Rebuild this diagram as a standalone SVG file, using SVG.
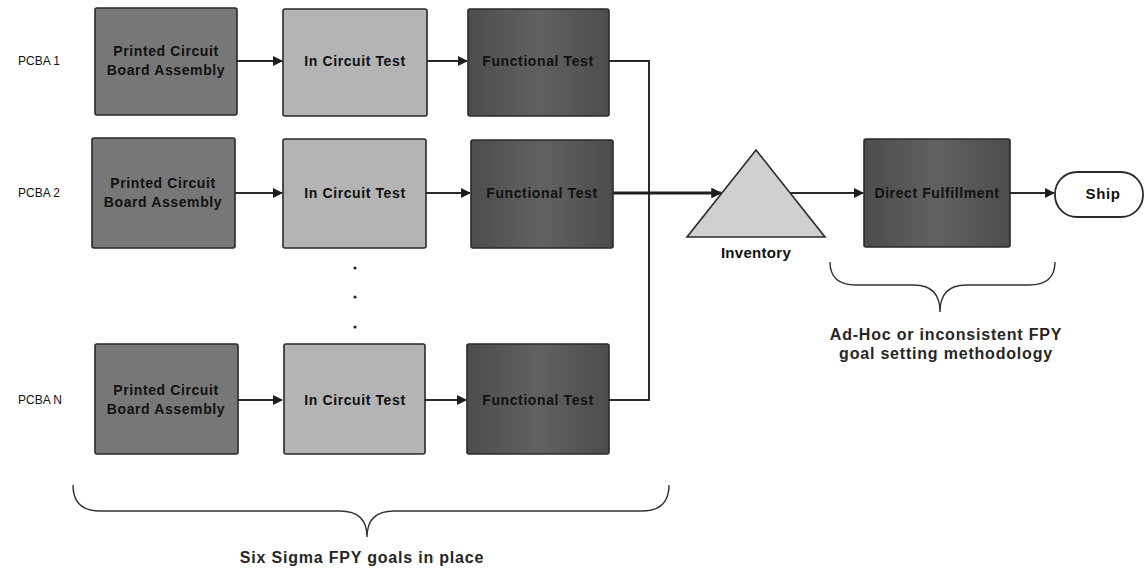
<svg xmlns="http://www.w3.org/2000/svg" width="1144" height="571" viewBox="0 0 1144 571">
  <style>
    .box { stroke: #2a2a2a; stroke-width: 1.6; }
    .pcb { fill: #777777; }
    .ict { fill: #b4b4b4; }
    .ft { fill: url(#ftGrad); }
    .inv { fill: #d0d0d0; stroke: #2a2a2a; stroke-width: 1.6; }
    .term { fill: #ffffff; stroke: #2a2a2a; stroke-width: 1.8; }
    .lbl { font-family: "Liberation Sans", Arial, sans-serif; font-weight: bold; font-size: 14px; letter-spacing: 0.6px; fill: #111; text-anchor: middle; }
    .side { font-family: "Liberation Sans", Arial, sans-serif; font-size: 12px; fill: #111; }
    .note { font-family: "Liberation Sans", Arial, sans-serif; font-weight: bold; font-size: 16px; letter-spacing: 0.8px; fill: #262626; text-anchor: middle; }
    .conn { fill: none; stroke: #2a2a2a; stroke-width: 2; }
    .thick { fill: none; stroke: #1e1e1e; stroke-width: 3; }
    .brace { fill: none; stroke: #333; stroke-width: 1.4; }
    .dot { fill: #222; }
  </style>
  <defs>
    <linearGradient id="ftGrad" x1="0" y1="0" x2="1" y2="0">
      <stop offset="0" stop-color="#4c4c4c"/>
      <stop offset="0.5" stop-color="#616161"/>
      <stop offset="1" stop-color="#4c4c4c"/>
    </linearGradient>
    <marker id="arr" viewBox="0 0 10 10" refX="9" refY="5" markerWidth="5" markerHeight="5" orient="auto" markerUnits="strokeWidth">
      <path d="M0,0 L10,5 L0,10 z" fill="#1e1e1e"/>
    </marker>
    <marker id="arrT" viewBox="0 0 10 10" refX="9" refY="5" markerWidth="3.6" markerHeight="3.6" orient="auto" markerUnits="strokeWidth">
      <path d="M0,0 L10,5 L0,10 z" fill="#1e1e1e"/>
    </marker>
  </defs>

  <!-- row labels -->
  <text class="side" x="18" y="65">PCBA 1</text>
  <text class="side" x="18" y="197">PCBA 2</text>
  <text class="side" x="18" y="404">PCBA N</text>

  <!-- connectors -->
  <g id="connectors">
    <line class="conn" x1="237" y1="61" x2="282" y2="61" marker-end="url(#arr)"/>
    <line class="conn" x1="427" y1="61" x2="467" y2="61" marker-end="url(#arr)"/>
    <line class="conn" x1="235" y1="193" x2="282" y2="193" marker-end="url(#arr)"/>
    <line class="conn" x1="426" y1="193" x2="470" y2="193" marker-end="url(#arr)"/>
    <line class="conn" x1="238" y1="400" x2="282" y2="400" marker-end="url(#arr)"/>
    <line class="conn" x1="425" y1="400" x2="466" y2="400" marker-end="url(#arr)"/>
    <polyline class="conn" points="609,61 649,61 649,400 609,400"/>
    <line class="thick" x1="613" y1="193" x2="721" y2="193" marker-end="url(#arrT)"/>
    <line class="conn" x1="790" y1="193" x2="863" y2="193" marker-end="url(#arr)"/>
    <line class="conn" x1="1010" y1="193" x2="1054" y2="193" marker-end="url(#arr)"/>
  </g>

  <!-- PCBA 1 chain -->
  <g id="pcb1">
    <rect class="box pcb" x="95" y="8" width="142" height="107" rx="2"/>
    <text class="lbl" x="166" y="56">Printed Circuit</text>
    <text class="lbl" x="166" y="75">Board Assembly</text>
  </g>
  <g id="ict1">
    <rect class="box ict" x="283" y="9" width="144" height="107" rx="2"/>
    <text class="lbl" x="355" y="66">In Circuit Test</text>
  </g>
  <g id="ft1">
    <rect class="box ft" x="468" y="9" width="141" height="107" rx="2"/>
    <text class="lbl" x="538" y="66">Functional Test</text>
  </g>

  <!-- PCBA 2 chain -->
  <g id="pcb2">
    <rect class="box pcb" x="92" y="138" width="143" height="110" rx="2"/>
    <text class="lbl" x="163" y="188">Printed Circuit</text>
    <text class="lbl" x="163" y="207">Board Assembly</text>
  </g>
  <g id="ict2">
    <rect class="box ict" x="283" y="139" width="143" height="109" rx="2"/>
    <text class="lbl" x="355" y="198">In Circuit Test</text>
  </g>
  <g id="ft2">
    <rect class="box ft" x="471" y="140" width="142" height="108" rx="2"/>
    <text class="lbl" x="542" y="198">Functional Test</text>
  </g>

  <!-- ellipsis between rows -->
  <g id="ellipsis">
    <circle class="dot" cx="355" cy="268" r="1.6"/>
    <circle class="dot" cx="355" cy="297" r="1.6"/>
    <circle class="dot" cx="355" cy="327" r="1.6"/>
  </g>

  <!-- PCBA N chain -->
  <g id="pcbN">
    <rect class="box pcb" x="95" y="344" width="143" height="110" rx="2"/>
    <text class="lbl" x="166" y="395">Printed Circuit</text>
    <text class="lbl" x="166" y="414">Board Assembly</text>
  </g>
  <g id="ictN">
    <rect class="box ict" x="284" y="344" width="141" height="110" rx="2"/>
    <text class="lbl" x="355" y="405">In Circuit Test</text>
  </g>
  <g id="ftN">
    <rect class="box ft" x="467" y="344" width="142" height="110" rx="2"/>
    <text class="lbl" x="538" y="405">Functional Test</text>
  </g>

  <!-- inventory -->
  <g id="inventory">
    <polygon class="inv" points="756,150 825,237 687,237"/>
    <text class="lbl" x="756" y="258" style="font-size:15px;letter-spacing:0.3px">Inventory</text>
  </g>

  <!-- direct fulfillment -->
  <g id="fulfillment">
    <rect class="box ft" x="864" y="139" width="146" height="108" rx="2"/>
    <text class="lbl" x="937" y="198">Direct Fulfillment</text>
  </g>

  <!-- ship terminal -->
  <g id="ship">
    <rect class="term" x="1055" y="172" width="88" height="45" rx="22" ry="22"/>
    <text class="lbl" x="1103" y="199" style="font-size:15px">Ship</text>
  </g>

  <!-- braces and notes -->
  <g id="note-fulfillment">
    <path class="brace" d="M830,262 Q830,285 856,285 L914,285 Q940,285 940,312 Q940,285 966,285 L1029,285 Q1055,285 1055,262"/>
    <text class="note" x="946" y="340">Ad-Hoc or inconsistent FPY</text>
    <text class="note" x="946" y="359">goal setting methodology</text>
  </g>
  <g id="note-pcba">
    <path class="brace" d="M73,485 Q73,511 100,511 L340,511 Q367,511 367,537 Q367,511 394,511 L642,511 Q669,511 669,485"/>
    <text class="note" x="362" y="563">Six Sigma FPY goals in place</text>
  </g>
</svg>
